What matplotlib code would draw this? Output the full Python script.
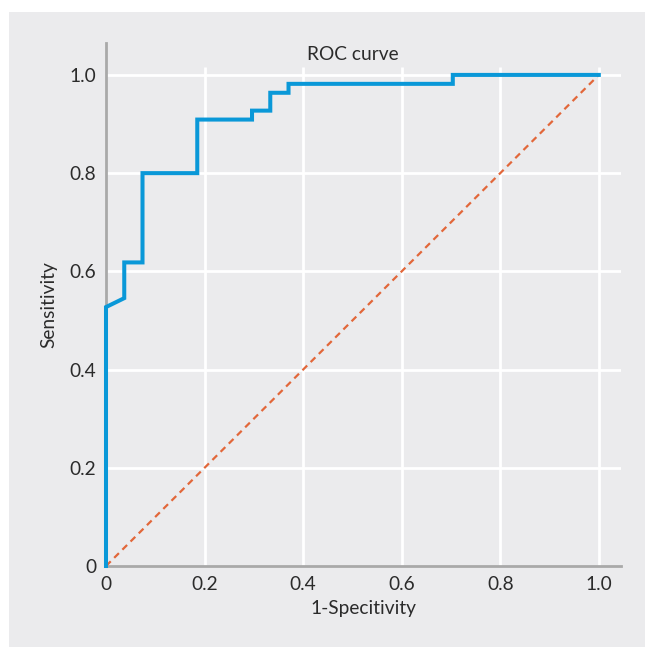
import numpy as np
import matplotlib
matplotlib.use("Agg")
import matplotlib.pyplot as plt
from matplotlib.patches import Rectangle

# ROC curve (27 negatives, 55 positives)
fpr = [0, 0, 1/27, 1/27, 2/27, 2/27, 5/27, 5/27, 8/27, 8/27,
       9/27, 9/27, 10/27, 10/27, 19/27, 19/27, 1]
tpr = [0, 29/55, 30/55, 34/55, 34/55, 44/55, 44/55, 50/55, 50/55, 51/55,
       51/55, 53/55, 53/55, 54/55, 54/55, 1, 1]
ref = [0, 1]
ticks = [0, 0.2, 0.4, 0.6, 0.8, 1.0]
tick_labels = ["0", "0.2", "0.4", "0.6", "0.8", "1.0"]

BG = "#ebebed"
SPINE = "#a9a9a9"
TXT = "#2b2b2b"
BLUE = "#0a98d8"
ORANGE = "#e2673a"
FS = 13.8

plt.rcParams["font.family"] = ["Lato", "DejaVu Sans"]

fig = plt.figure(figsize=(6.45, 6.47), dpi=100)
fig.patch.set_facecolor("white")
fig.patches.append(Rectangle((9 / 645, 0), 1, 1 - 12 / 647, transform=fig.transFigure,
                             facecolor=BG, edgecolor="none", zorder=-5))

ax = fig.add_axes([106 / 645, 1 - 566 / 647, (621 - 106) / 645, (566 - 43) / 647])
ax.set_facecolor(BG)
ax.set_xlim(0, 1.045)
ax.set_ylim(0, 1.065)

# grid
ax.hlines(ticks[1:], 0, 1.045, color="white", lw=2, zorder=1)
ax.vlines(ticks[1:], 0, 1.016, color="white", lw=2, zorder=1)

ax.plot(ref, ref, color=ORANGE, lw=1.6, ls=(0, (3, 2.2)), zorder=3)
ax.plot(fpr, tpr, color=BLUE, lw=2.9, zorder=4, solid_joinstyle="miter", clip_on=False)

for s in ["top", "right"]:
    ax.spines[s].set_visible(False)
for s in ["left", "bottom"]:
    ax.spines[s].set_color(SPINE)
    ax.spines[s].set_linewidth(2)
    ax.spines[s].set_zorder(2)

ax.set_xticks(ticks)
ax.set_xticklabels(tick_labels)
ax.set_yticks(ticks)
ax.set_yticklabels(tick_labels)
ax.tick_params(length=0, labelsize=FS, labelcolor=TXT, pad=7)

ax.set_xlabel("1-Specitivity", fontsize=FS, color=TXT, labelpad=5)
ax.set_ylabel("Sensitivity", fontsize=FS, color=TXT, labelpad=9)
ax.text(0.5, 1.042, "ROC curve", ha="center", va="center", fontsize=FS, color=TXT)

fig.savefig("out.png", dpi=100, facecolor=fig.get_facecolor())
